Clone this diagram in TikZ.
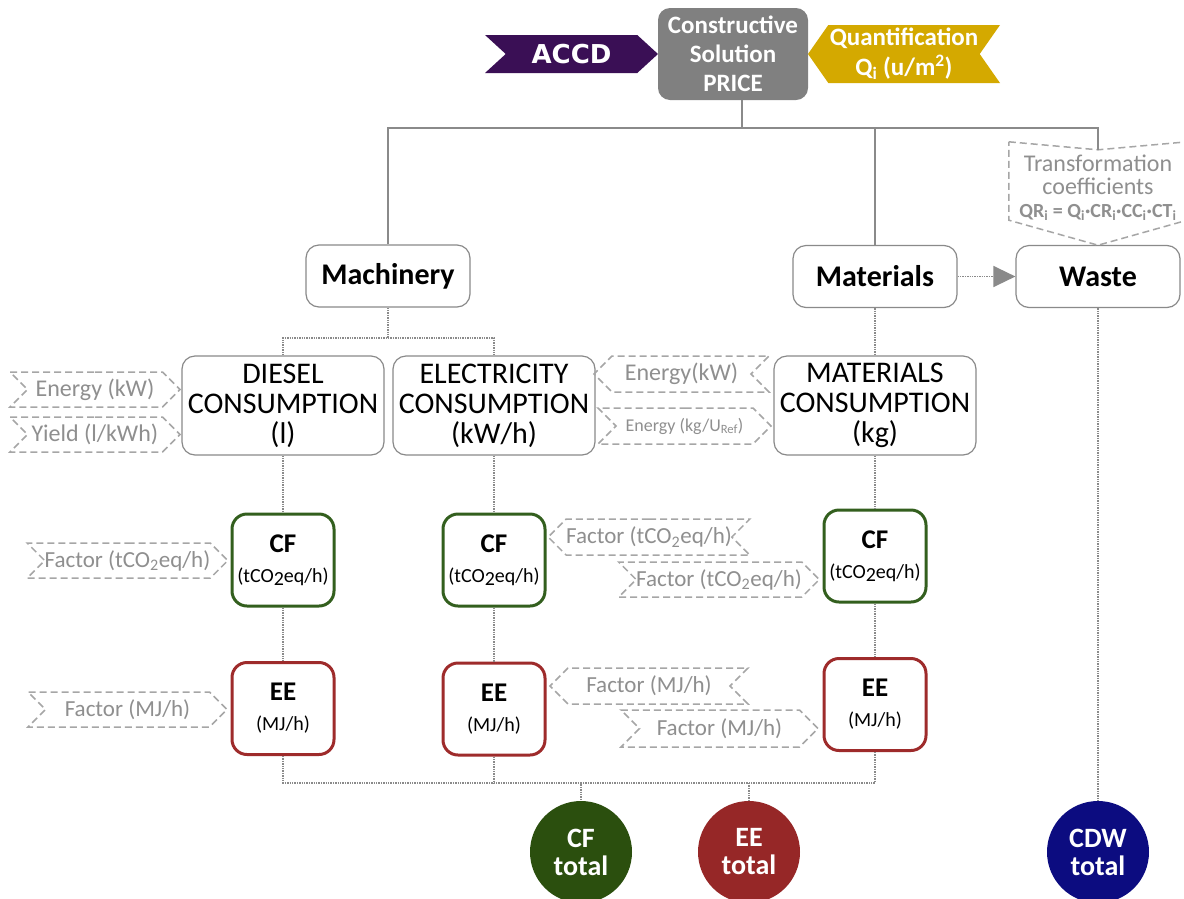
\documentclass[tikz,border=0pt]{standalone}
\usepackage{fontspec}
\setmainfont{Carlito}
\newfontfamily\heavyfont{DejaVu Sans}
\usetikzlibrary{shapes.symbols,arrows.meta}
\definecolor{linegray}{HTML}{8A8A8A}
\definecolor{dashgray}{HTML}{A6A6A6}
\definecolor{txtgray}{HTML}{8F8F8F}
\definecolor{pricegray}{HTML}{808080}
\definecolor{accdpurple}{HTML}{3A0F55}
\definecolor{quantgold}{HTML}{D4A900}
\definecolor{cfgreen}{HTML}{335F1E}
\definecolor{eered}{HTML}{9E2B2B}
\definecolor{cftot}{HTML}{2B4F0E}
\definecolor{eetot}{HTML}{962727}
\definecolor{cdwtot}{HTML}{0C0C80}
\newcommand{\fsz}[1]{\fontsize{#1}{#1}\selectfont}

\begin{document}
\begin{tikzpicture}[x=1pt,y=-1pt,
  solidline/.style={draw=linegray, line width=1.4pt},
  dotline/.style={draw=linegray, line width=1.4pt, densely dotted},
  roundbox/.style={draw=linegray, line width=1.2pt, rounded corners=13pt, fill=white, align=center, inner sep=0pt},
  headbox/.style={roundbox, minimum width=164pt, minimum height=62pt, font=\fsz{30}\bfseries},
  consbox/.style={roundbox, minimum width=202pt, minimum height=99pt, font=\fontsize{30}{30}\selectfont},
  cfbox/.style={roundbox, draw=cfgreen, line width=3pt, rounded corners=15pt, minimum width=102pt, minimum height=92pt, font=\fontsize{20}{30}\selectfont},
  eebox/.style={cfbox, draw=eered},
  totnode/.style={circle, minimum size=102pt, inner sep=0pt, text=white, align=center, font=\fontsize{28}{28}\selectfont\bfseries},
  inbox/.style={shape=signal, draw=dashgray, line width=1.5pt, dash pattern=on 7pt off 4pt, text=txtgray, inner sep=0pt, font=\fsz{24}},
  inright/.style={inbox, signal to=east, signal from=west},
  inleft/.style={inbox, signal to=west, signal from=east}]
  \fill[white] (0,0) rectangle (1184,898);
  \useasboundingbox (0,0) rectangle (1184,898);

  % top row
  \node[fill=pricegray, rounded corners=12pt, minimum width=150pt, minimum height=92pt, inner sep=0pt, text=white, align=center, font=\fontsize{25}{29}\selectfont\bfseries] (price) at (733,54) {Constructive\\Solution\\PRICE};
  \node[shape=signal, signal to=east, signal from=west, signal pointer angle=85, fill=accdpurple, minimum width=173pt, minimum height=38pt, inner sep=0pt, text=white, font=\heavyfont\bfseries\fsz{26}] (accd) at (571.5,54) {ACCD};
  \node[shape=signal, signal to=west, signal from=east, signal pointer angle=110, fill=quantgold, minimum width=192pt, minimum height=58pt, inner sep=0pt, text=white, align=center, font=\fontsize{25}{30}\selectfont\bfseries] (quant) at (904,54) {Quantification\\Q\textsubscript{i} (u/m\textsuperscript{2})};

  % second row
  \node[headbox] (mach) at (388,276) {Machinery};
  \node[headbox] (mats) at (875,276.5) {Materials};
  \node[headbox] (waste) at (1098,276.5) {Waste};
  \node[minimum width=178pt, minimum height=78pt, inner sep=0pt, text=txtgray, align=center, font=\fontsize{24}{23}\selectfont] (trans) at (1098,188) {Transformation\\coefficients\\{\bfseries\fsz{20}QR\textsubscript{i} = Q\textsubscript{i}·CR\textsubscript{i}·CC\textsubscript{i}·CT\textsubscript{i}}};
  \draw[draw=dashgray, line width=1.5pt, dash pattern=on 7pt off 4pt] ([yshift=7pt]trans.north west) -- ([yshift=-1pt]trans.north) -- ([yshift=7pt]trans.north east) -- ([yshift=7pt]trans.south east) -- ([yshift=-18pt]trans.south) -- ([yshift=7pt]trans.south west) -- cycle;

  \coordinate (bus) at (742,128);
  \draw[solidline] (bus |- price.south) -- (bus);
  \draw[solidline] (mach.north) |- (bus) -| (mats.north);
  \draw[solidline] (bus) -| ([yshift=-1pt]trans.north);
  \draw[dotline, -{Triangle[length=22pt,width=21pt]}] (mats) -- (waste);

  % consumption
  \node[consbox] (diesel) at (283,405.5) {DIESEL\\CONSUMPTION\\(l)};
  \node[consbox] (elec) at (494,405.5) {ELECTRICITY\\CONSUMPTION\\(kW/h)};
  \node[consbox] (matc) at (875,405.5) {MATERIALS\\CONSUMPTION\\(kg)};

  \coordinate (mbus) at (388,338);
  \draw[dotline] (mach.south) -- (mbus);
  \draw[dotline] (diesel.north) |- (mbus) -| (elec.north);
  \draw[dotline] (mats.south) -- (matc.north);

  \node[inright, minimum width=170pt, minimum height=35pt] (enD) at (95,389.5) {Energy (kW)};
  \node[inright, minimum width=170pt, minimum height=35pt] (yiD) at (95,434.5) {Yield (l/kWh)};
  \node[inleft, minimum width=175pt, minimum height=36pt] (enE) at (681.5,374) {Energy(kW)};
  \node[inright, minimum width=173pt, minimum height=36pt, font=\fsz{18}] (enM) at (684.5,426) {Energy (kg/U\textsubscript{Ref})};

  % CF and EE
  \node[cfbox] (cf1) at (283,560) {{\bfseries\fsz{27}CF}\\(tCO\raisebox{-3pt}{2}eq/h)};
  \node[cfbox] (cf2) at (494,560) {{\bfseries\fsz{27}CF}\\(tCO\raisebox{-3pt}{2}eq/h)};
  \node[cfbox] (cf3) at (875,556) {{\bfseries\fsz{27}CF}\\(tCO\raisebox{-3pt}{2}eq/h)};
  \node[eebox] (ee1) at (283,708.5) {{\bfseries\fsz{27}EE}\\(MJ/h)};
  \node[eebox] (ee2) at (494,709) {{\bfseries\fsz{27}EE}\\(MJ/h)};
  \node[eebox] (ee3) at (875,704.5) {{\bfseries\fsz{27}EE}\\(MJ/h)};

  \node[inright, minimum width=199pt, minimum height=35pt, font=\fsz{23}] (fcf1) at (127.5,560.5) {Factor (tCO\textsubscript{2}eq/h)};
  \node[inright, minimum width=199pt, minimum height=35pt, font=\fsz{23}] (fee1) at (127.5,709.5) {Factor (MJ/h)};
  \node[inleft, minimum width=198pt, minimum height=36pt, font=\fsz{23}] (fcf2) at (649,537) {Factor (tCO\textsubscript{2}eq/h)};
  \node[inright, minimum width=198pt, minimum height=35pt, font=\fsz{23}] (fcf3) at (719,579.5) {Factor (tCO\textsubscript{2}eq/h)};
  \node[inleft, minimum width=198pt, minimum height=36pt, font=\fsz{23}] (fee2) at (649,686) {Factor (MJ/h)};
  \node[inright, minimum width=197pt, minimum height=37pt, font=\fsz{23}] (fee3) at (719.5,728.5) {Factor (MJ/h)};

  \draw[dotline] (diesel.south) -- (cf1.north);
  \draw[dotline] (elec.south) -- (cf2.north);
  \draw[dotline] (matc.south) -- (cf3.north);
  \draw[dotline] (cf1.south) -- (ee1.north);
  \draw[dotline] (cf2.south) -- (ee2.north);
  \draw[dotline] (cf3.south) -- (ee3.north);

  % totals
  \node[totnode, fill=cftot] (cft) at (581,852) {CF\\total};
  \node[totnode, fill=eetot] (eet) at (749,852) {EE\\total};
  \node[totnode, fill=cdwtot] (cdw) at (1098,852) {CDW\\total};

  \coordinate (tbus) at (581,783);
  \draw[dotline] (ee1.south) |- (tbus) -| (cft.north);
  \draw[dotline] (ee3.south) |- (tbus);
  \draw[dotline] (ee2.south) -- (ee2.south |- tbus);
  \draw[dotline] (eet.north |- tbus) -- (eet.north);
  \draw[dotline] (waste.south) -- (cdw.north);
\end{tikzpicture}
\end{document}
